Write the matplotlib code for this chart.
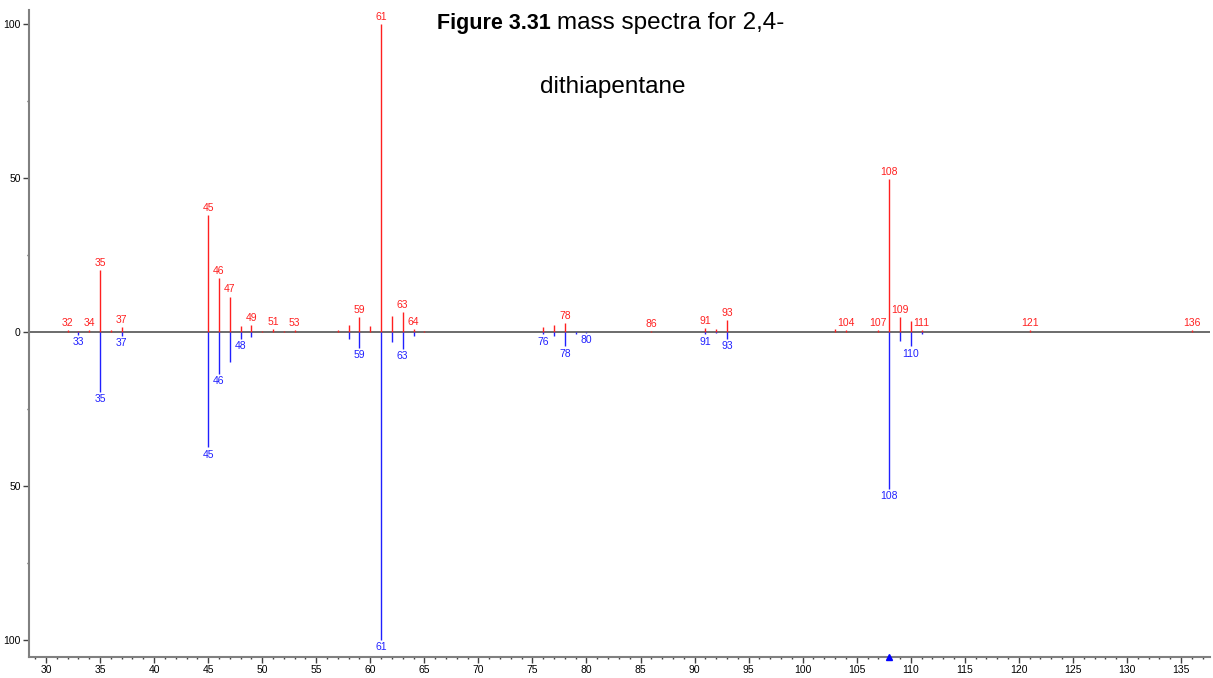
import matplotlib
matplotlib.use("Agg")
import matplotlib.pyplot as plt
from matplotlib.ticker import MultipleLocator, FuncFormatter

# ---- data ----
red_mz = [32, 33, 34, 35, 36, 37, 45, 46, 47, 48, 49, 50, 51, 52, 53, 57, 58, 59, 60, 61,
          62, 63, 64, 65, 76, 77, 78, 86, 91, 92, 93, 103, 104, 107, 108, 109, 110, 111, 121, 136]
red_int = [0.7, 0.4, 0.7, 20, 0.5, 1.5, 38, 17.5, 11.5, 1.8, 2.1, 0.4, 0.8, 0.4, 0.7, 0.5, 2.4, 4.9, 2.0, 100,
           5.1, 6.4, 0.8, 0.4, 1.5, 2.4, 2.9, 0.4, 1.3, 0.8, 4.0, 1.0, 0.7, 0.5, 49.5, 4.9, 3.5, 0.6, 0.6, 0.6]
red_labels = [32, 34, 35, 37, 45, 46, 47, 49, 51, 53, 59, 61, 63, 64, 78, 86, 91, 93,
              104, 107, 108, 109, 111, 121, 136]

blue_mz = [33, 35, 37, 45, 46, 47, 48, 49, 58, 59, 61, 62, 63, 64, 76, 77, 78, 79, 80,
           91, 92, 93, 108, 109, 110, 111]
blue_int = [1.0, 19.5, 1.4, 37.5, 13.5, 9.7, 2.3, 1.6, 2.3, 5.2, 100, 3.4, 5.5, 1.4, 0.8, 1.4, 4.7, 0.5, 0.3,
            0.8, 0.4, 2.3, 51, 2.9, 4.7, 0.6]
blue_labels = [33, 35, 37, 45, 46, 48, 59, 61, 63, 76, 78, 80, 91, 93, 108, 110]

x_ticks = list(range(30, 136, 5))
y_ticks = [-100, -50, 0, 50, 100]

RED = "#ff2020"
BLUE = "#2020ff"
GRAY = "#808080"

fig = plt.figure(figsize=(12.13, 6.78), dpi=100)
W, H = 1213, 678
ax = fig.add_axes([29 / W, (H - 657) / H, (1210 - 29) / W, (657 - 10) / H])

ax.set_xlim(28.43, 137.68)
ax.set_ylim(-105.5, 104.5)

ax.axhline(0, color="#606060", lw=1.3, zorder=1)

ax.vlines(red_mz, 0, red_int, color=RED, lw=1.0, zorder=2)
ax.vlines(blue_mz, 0, [-v for v in blue_int], color=BLUE, lw=1.0, zorder=2)

rmap = dict(zip(red_mz, red_int))
bmap = dict(zip(blue_mz, blue_int))
for m in red_labels:
    ax.annotate(str(m), (m, rmap[m]), xytext=(0, 1.5), textcoords="offset points",
                ha="center", va="bottom", color=RED, fontsize=7.5, family="Liberation Sans")
for m in blue_labels:
    ax.annotate(str(m), (m, -bmap[m]), xytext=(0, -1.5), textcoords="offset points",
                ha="center", va="top", color=BLUE, fontsize=7.5, family="Liberation Sans")

# marker on axis
ax.plot([108], [-105.5], marker="^", color="#0000ff", markersize=5, clip_on=False, zorder=5)

# spines
for s in ["top", "right"]:
    ax.spines[s].set_visible(False)
for s in ["left", "bottom"]:
    ax.spines[s].set_color(GRAY)
    ax.spines[s].set_linewidth(1.5)

ax.set_xticks(x_ticks)
ax.xaxis.set_minor_locator(MultipleLocator(1))
ax.set_yticks(y_ticks)
ax.yaxis.set_minor_locator(MultipleLocator(25))
ax.yaxis.set_major_formatter(FuncFormatter(lambda v, p: f"{abs(int(v))}"))
ax.tick_params(axis="both", which="major", length=4, width=1, color="#404040",
               labelsize=7.5, pad=2)
ax.tick_params(axis="both", which="minor", length=1.5, width=1, color="#404040")
for lab in ax.get_xticklabels() + ax.get_yticklabels():
    lab.set_family("Liberation Sans")

# title
fig.text(437 / W, 1 - 23 / H, "Figure 3.31", fontsize=15.5, fontweight="bold",
         family="Liberation Sans", ha="left", va="center")
fig.text(557 / W, 1 - 23 / H, "mass spectra for 2,4-", fontsize=17.5,
         family="Liberation Sans", ha="left", va="center")
fig.text(613 / W, 1 - 87 / H, "dithiapentane", fontsize=17.5,
         family="Liberation Sans", ha="center", va="center")

fig.savefig("out.png", dpi=100)
